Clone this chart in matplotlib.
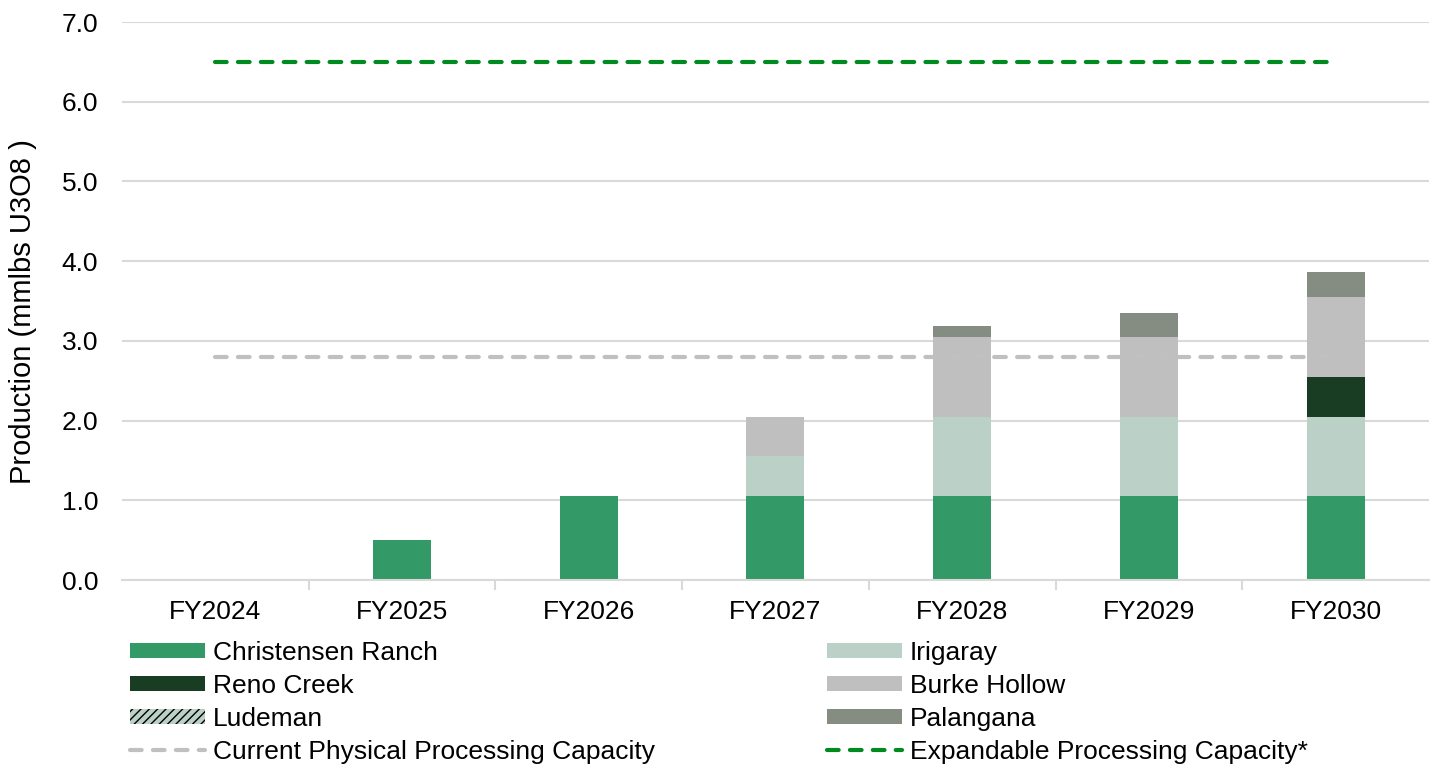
import numpy as np
import matplotlib.pyplot as plt
from matplotlib.patches import Patch
from matplotlib.lines import Line2D

plt.rcParams['font.family'] = ['Liberation Sans', 'DejaVu Sans']

years = ['FY2024', 'FY2025', 'FY2026', 'FY2027', 'FY2028', 'FY2029', 'FY2030']
christensen = [0, 0.5, 1.05, 1.05, 1.05, 1.05, 1.05]
irigaray = [0, 0, 0, 0.5, 1.0, 1.0, 1.0]
reno_creek = [0, 0, 0, 0, 0, 0, 0.5]
ludeman = [0, 0, 0, 0, 0, 0, 0]
burke_hollow = [0, 0, 0, 0.5, 1.0, 1.0, 1.0]
palangana = [0, 0, 0, 0, 0.14, 0.3, 0.32]
current_cap = [2.8] * 7
expand_cap = [6.5] * 7

c_cr = '#339966'
c_iri = '#bbd0c6'
c_reno = '#183d22'
c_burke = '#bfbfbf'
c_pal = '#858d83'
c_cur = '#c0c0c0'
c_exp = '#008a20'

fs = 19

fig = plt.figure(figsize=(14.34, 7.65), dpi=100)
ax = fig.add_axes([0.085, 0.2418, 0.9115, 0.7294])

x = np.arange(len(years))
w = 0.31
bottom = np.zeros(len(years))
series = [
    (christensen, c_cr, None),
    (irigaray, c_iri, None),
    (reno_creek, c_reno, None),
    (ludeman, c_iri, '////'),
    (burke_hollow, c_burke, None),
    (palangana, c_pal, None),
]
for vals, col, hatch in series:
    v = np.array(vals)
    ax.bar(x, v, w, bottom=bottom, color=col, hatch=hatch, linewidth=0, zorder=2)
    bottom += v

ls = (0, (2.8, 2.7))
ax.plot(x, current_cap, color=c_cur, lw=3, ls=ls, dash_capstyle='round', zorder=3)
ax.plot(x, expand_cap, color=c_exp, lw=3, ls=ls, dash_capstyle='round', zorder=3)

ax.set_xlim(-0.5, 6.5)
ax.set_ylim(0, 7)
ax.set_yticks(np.arange(0, 7.01, 1.0))
ax.set_yticklabels([f'{v:.1f}' for v in np.arange(0, 7.01, 1.0)])
ax.set_xticks(x)
ax.set_xticklabels(years)
ax.set_xticks(np.arange(0.5, 6, 1.0), minor=True)
ax.tick_params(axis='x', which='major', length=0, pad=14.5, labelsize=fs)
ax.tick_params(axis='x', which='minor', length=7, width=1.5, color='#d9d9d9')
ax.tick_params(axis='y', length=0, pad=17, labelsize=fs)
ax.grid(axis='y', color='#d9d9d9', lw=1.5, zorder=0)
ax.set_axisbelow(True)
for s in ['top', 'right', 'left']:
    ax.spines[s].set_visible(False)
ax.spines['bottom'].set_color('#d9d9d9')
ax.spines['bottom'].set_linewidth(1.5)
ax.set_ylabel('Production (mmlbs U3O8 )', fontsize=21)
ax.yaxis.set_label_coords(-0.065, 0.482)

def lh(col, hatch=None):
    return Patch(facecolor=col, hatch=hatch, linewidth=0)

left_h = [lh(c_cr), lh(c_reno), lh(c_iri, '////'),
          Line2D([], [], color=c_cur, lw=3, ls=ls, dash_capstyle='round')]
left_l = ['Christensen Ranch', 'Reno Creek', 'Ludeman', 'Current Physical Processing Capacity']
right_h = [lh(c_iri), lh(c_burke), lh(c_pal),
           Line2D([], [], color=c_exp, lw=3, ls=ls, dash_capstyle='round')]
right_l = ['Irigaray', 'Burke Hollow', 'Palangana', 'Expandable Processing Capacity*']

kw = dict(loc='upper left', frameon=False, fontsize=fs, handlelength=2.85,
          handleheight=0.5, handletextpad=0.3, labelspacing=0.34, borderpad=0,
          borderaxespad=0)
leg1 = fig.legend(left_h, left_l, bbox_to_anchor=(130 / 1434, 1 - 641 / 765), **kw)
leg2 = fig.legend(right_h, right_l, bbox_to_anchor=(827 / 1434, 1 - 641 / 765), **kw)

fig.savefig('out.png', dpi=100)
